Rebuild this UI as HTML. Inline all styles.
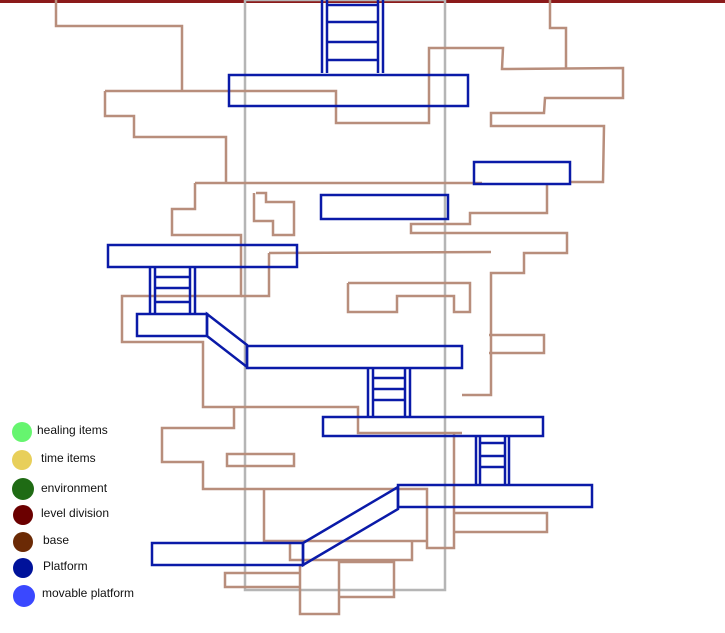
<!DOCTYPE html>
<html><head><meta charset="utf-8"><style>
html,body{margin:0;padding:0;background:#fff;width:725px;height:633px;overflow:hidden}
svg{display:block}
text{font-family:"Liberation Sans",sans-serif;font-size:12px;fill:#111}
</style></head><body>
<svg width="725" height="633" viewBox="0 0 725 633" xmlns="http://www.w3.org/2000/svg">
<rect x="0" y="0" width="725" height="3" fill="#8b1a1a"/>
<rect x="245" y="0" width="200" height="590" fill="none" stroke="#b5b5b5" stroke-width="2.5"/>
<g fill="none" stroke="#b88e7c" stroke-width="2.5" stroke-linejoin="miter">
<polyline points="56,0 56,26 182,26 182,91"/>
<polyline points="105,91 336,91 336,123 429,123 429,48 503,48 502,69 623,68 623,98 545,98 544,113 491,113 491,126 604,126 603,182 570,182"/>
<polyline points="550,0 550,28 566,28 566,69"/>
<polyline points="105,91 105,116 134,116 134,137 226,137 226,183"/>
<polyline points="195,183 482,183"/>
<polyline points="195,183 195,209 172,209 172,235 241,235 241,296 122,296 122,342 203,342 203,407 358,407 358,433 462,433"/>
<polyline points="256,193 266,193 266,202 294,202 294,235 273,235 273,221 254,221 254,193"/>
<polyline points="547,184 547,213 470,213 470,224 411,224 411,233 567,233 567,253 524,253 524,273 491,273 491,395 462,395"/>
<polyline points="269,253 491,252"/>
<polyline points="269,253 269,296 241,296"/>
<polyline points="348,283 470,283 470,312 454,312 454,296 397,296 397,312 348,312 348,283"/>
<polyline points="234,407 234,428 162,428 162,462 203,462 203,489 427,489 427,548 454,548 454,433"/>
<rect x="227" y="454" width="67" height="12"/>
<polyline points="489,335 544,335 544,353 489,353"/>
<polyline points="264,490 264,541 427,541"/>
<polyline points="290,543 290,560 412,560 412,542"/>
<polyline points="455,513 547,513 547,532 455,532"/>
<polyline points="300,573 225,573 225,587 300,587"/>
<polyline points="300,565 300,614 339,614 339,562 394,562 394,597 339,597"/>
</g>
<g fill="none" stroke="#0a1aa8" stroke-width="2.5">
<line x1="322" y1="0" x2="322" y2="73"/><line x1="327" y1="0" x2="327" y2="73"/>
<line x1="378" y1="0" x2="378" y2="73"/><line x1="383" y1="0" x2="383" y2="73"/>
<line x1="327" y1="5" x2="378" y2="5"/><line x1="327" y1="22" x2="378" y2="22"/>
<line x1="327" y1="42" x2="378" y2="42"/><line x1="327" y1="60" x2="378" y2="60"/>
<rect x="229" y="75" width="239" height="31"/>
<rect x="474" y="162" width="96" height="22"/>
<rect x="321" y="195" width="127" height="24"/>
<rect x="108" y="245" width="189" height="22"/>
<line x1="150" y1="267" x2="150" y2="314"/><line x1="155" y1="267" x2="155" y2="314"/>
<line x1="190" y1="267" x2="190" y2="314"/><line x1="195" y1="267" x2="195" y2="314"/>
<line x1="155" y1="277" x2="190" y2="277"/><line x1="155" y1="288" x2="190" y2="288"/><line x1="155" y1="302" x2="190" y2="302"/>
<rect x="137" y="314" width="70" height="22"/>
<polygon points="207,314 247,345 247,367 207,336"/>
<rect x="247" y="346" width="215" height="22"/>
<line x1="368" y1="368" x2="368" y2="417"/><line x1="373" y1="368" x2="373" y2="417"/>
<line x1="405" y1="368" x2="405" y2="417"/><line x1="410" y1="368" x2="410" y2="417"/>
<line x1="373" y1="378" x2="405" y2="378"/><line x1="373" y1="389" x2="405" y2="389"/><line x1="373" y1="400" x2="405" y2="400"/>
<rect x="323" y="417" width="220" height="19"/>
<line x1="476" y1="436" x2="476" y2="484"/><line x1="480" y1="436" x2="480" y2="484"/>
<line x1="505" y1="436" x2="505" y2="484"/><line x1="509" y1="436" x2="509" y2="484"/>
<line x1="480" y1="443" x2="505" y2="443"/><line x1="480" y1="456" x2="505" y2="456"/><line x1="480" y1="467" x2="505" y2="467"/>
<rect x="398" y="485" width="194" height="22"/>
<polygon points="303,543 398,487 398,509 303,565"/>
<rect x="152" y="543" width="151" height="22"/>
</g>
<circle cx="22" cy="432" r="10" fill="#66f56f"/>
<circle cx="22" cy="460" r="10" fill="#e8cf5a"/>
<circle cx="23" cy="489" r="11" fill="#1f6b14"/>
<circle cx="23" cy="515" r="10" fill="#6b0000"/>
<circle cx="23" cy="542" r="10" fill="#6b2a05"/>
<circle cx="23" cy="568" r="10" fill="#00129a"/>
<circle cx="24" cy="596" r="11" fill="#3a48ff"/>
<text x="37" y="434">healing items</text>
<text x="41" y="462">time items</text>
<text x="41" y="492">environment</text>
<text x="41" y="517">level division</text>
<text x="43" y="544">base</text>
<text x="43" y="570">Platform</text>
<text x="42" y="597">movable platform</text>
</svg>
</body></html>
